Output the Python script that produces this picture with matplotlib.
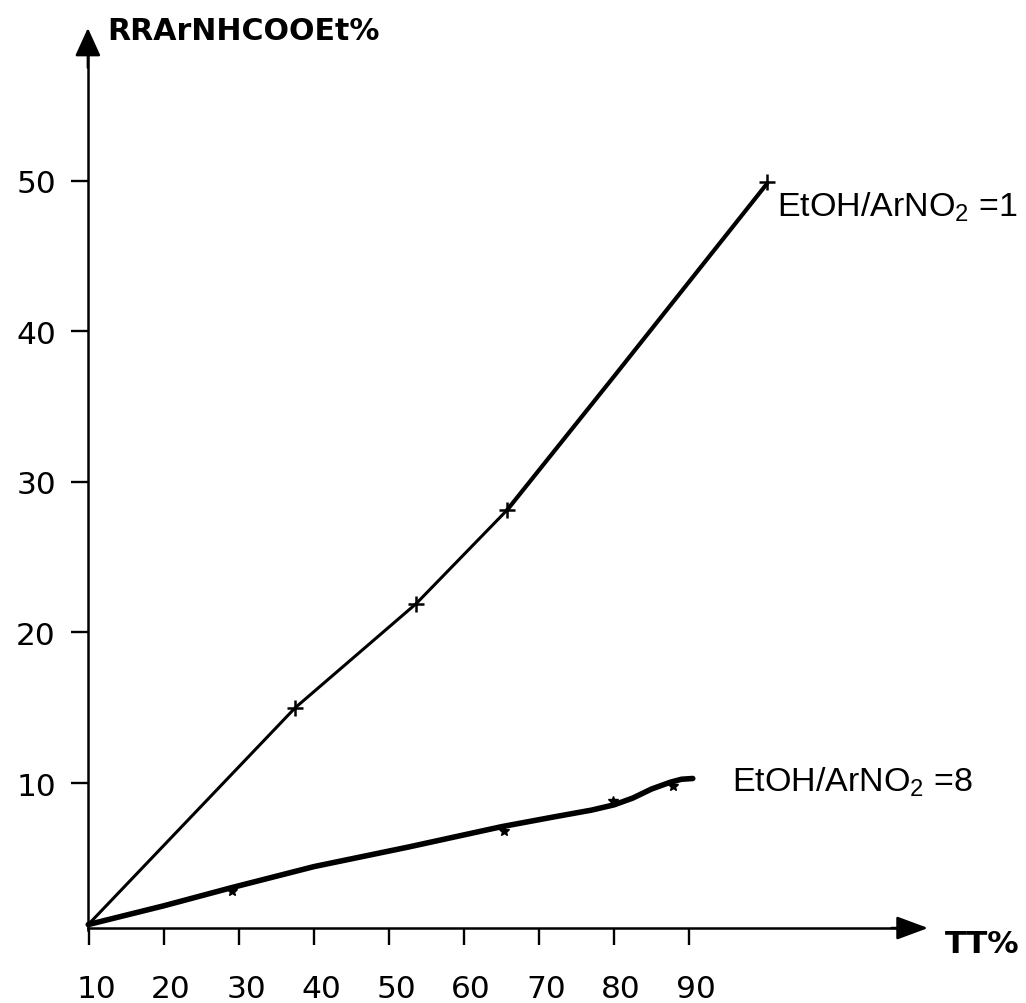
import matplotlib
matplotlib.use("Agg")
import matplotlib.pyplot as plt
from matplotlib.transforms import ScaledTranslation

plt.rcParams["mathtext.fontset"] = "custom"
plt.rcParams["mathtext.rm"] = "Liberation Sans"
plt.rcParams["mathtext.it"] = "Liberation Sans"

# Measured points, EtOH/ArNO2 = 1
tt_r1 = [37.5, 53.6, 65.7, 100.4]
rr_r1 = [15.0, 21.9, 28.1, 49.9]

# Measured points, EtOH/ArNO2 = 8
tt_r8 = [29.0, 65.3, 79.9, 87.9]
rr_r8 = [2.85, 6.8, 8.8, 9.8]

# Hand-drawn trend curves
curve1_x = [9.9, 37.5, 53.6, 65.7, 80.0, 100.4]
curve1_y = [0.6, 15.0, 21.9, 28.1, 37.0, 49.8]
curve8_x = [9.9, 20.0, 29.0, 40.0, 52.6, 65.0, 72.0, 77.0, 80.0, 82.5, 85.0, 87.5, 89.0, 90.5]
curve8_y = [0.6, 1.85, 3.05, 4.45, 5.75, 7.1, 7.75, 8.2, 8.55, 9.0, 9.6, 10.05, 10.25, 10.3]

x_ticks = [10, 20, 30, 40, 50, 60, 70, 80, 90]
y_ticks = [10, 20, 30, 40, 50]
x_title = "TT%"
y_title = "RRArNHCOOEt%"
label_r1 = "EtOH/ArNO$_\\mathrm{2}$ =1"
label_r8 = "EtOH/ArNO$_\\mathrm{2}$ =8"

fig = plt.figure(figsize=(10.26, 10.04), dpi=100)
ax = fig.add_axes([0, 0, 1, 1])
ax.set_xlim(-1.867, 134.93)
ax.set_ylim(-4.608, 62.06)
ax.patch.set_alpha(0)

# axes lines through the origin corner
x_axis_y = 0.37
y_axis_x = 9.85
ax.spines["top"].set_visible(False)
ax.spines["right"].set_visible(False)
ax.spines["bottom"].set_position(("data", x_axis_y))
ax.spines["left"].set_position(("data", y_axis_x))
ax.spines["bottom"].set_bounds(y_axis_x, 119.0)
ax.spines["left"].set_bounds(x_axis_y - 0.1, 59.0)
for s in ("bottom", "left"):
    ax.spines[s].set_linewidth(1.8)

ax.set_xticks(x_ticks)
ax.set_xticklabels([str(v) for v in x_ticks])
ax.set_yticks(y_ticks)
ax.set_yticklabels([str(v) for v in y_ticks])
ax.tick_params(axis="x", direction="out", length=12.2, width=1.7, pad=21,
               labelsize=22.5, labelfontfamily="DejaVu Sans")
ax.tick_params(axis="y", direction="out", length=12.2, width=1.7, pad=10.8,
               labelsize=22.5, labelfontfamily="DejaVu Sans")
shift = ScaledTranslation(0.07, 0, fig.dpi_scale_trans)
for lab in ax.get_xticklabels():
    lab.set_transform(lab.get_transform() + shift)

# arrow heads
ax.annotate("", xy=(121.87, x_axis_y), xytext=(117.0, x_axis_y),
            arrowprops=dict(arrowstyle="-|>,head_length=19.4,head_width=7.2",
                            mutation_scale=1, lw=1.8, color="black",
                            shrinkA=0, shrinkB=0))
ax.annotate("", xy=(y_axis_x, 60.13), xytext=(y_axis_x, 57.5),
            arrowprops=dict(arrowstyle="-|>,head_length=17.3,head_width=7.9",
                            mutation_scale=1, lw=1.8, color="black",
                            shrinkA=0, shrinkB=0))

# curves
ax.plot(curve1_x[:4], curve1_y[:4], color="black", lw=2.2,
        solid_capstyle="round", solid_joinstyle="round")
ax.plot(curve1_x[3:], curve1_y[3:], color="black", lw=3.0,
        solid_capstyle="round", solid_joinstyle="round")
ax.plot(curve8_x, curve8_y, color="black", lw=4.0,
        solid_capstyle="round", solid_joinstyle="round")

# markers
ax.plot(tt_r1, rr_r1, linestyle="none", marker="+", markersize=11,
        markeredgewidth=1.8, color="black")
ax.plot(tt_r8, rr_r8, linestyle="none", marker="*", markersize=7,
        color="black")

# titles and series labels
ax.text(12.4, 59.4, y_title, fontsize=21.6, fontweight="bold",
        family="DejaVu Sans", ha="left", va="baseline")
ax.text(124.1, -1.22, x_title, fontsize=22.5, fontweight="bold",
        family="DejaVu Sans", ha="left", va="baseline")
ax.text(101.7, 47.65, label_r1, fontsize=24.5, family="Liberation Sans",
        ha="left", va="baseline")
ax.text(95.7, 9.47, label_r8, fontsize=24.5, family="Liberation Sans",
        ha="left", va="baseline")

fig.savefig("out.png", dpi=100)
